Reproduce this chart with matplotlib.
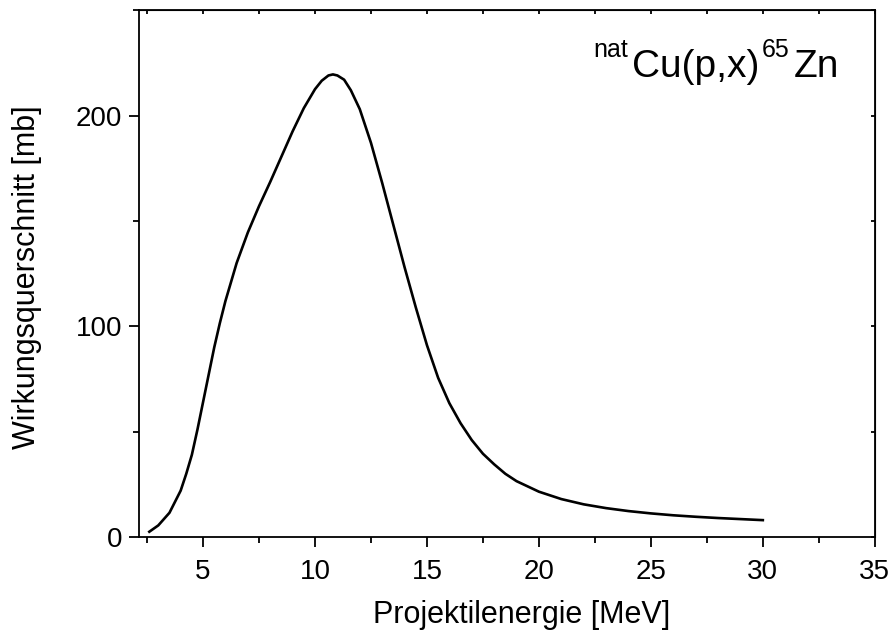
import matplotlib
matplotlib.use("Agg")
import matplotlib.pyplot as plt

plt.rcParams['font.family'] = ['Liberation Sans', 'DejaVu Sans']

# Anregungsfunktion natCu(p,x)65Zn
energy = [2.6, 3.0, 3.5, 4.0, 4.25, 4.5, 4.75, 5.0, 5.25, 5.5, 5.75, 6.0, 6.5,
          7.0, 7.5, 8.0, 8.5, 9.0, 9.5, 10.0, 10.3, 10.6, 10.8, 11.0, 11.3,
          11.6, 12.0, 12.5, 13.0, 13.5, 14.0, 14.5, 15.0, 15.5, 16.0, 16.5,
          17.0, 17.5, 18.0, 18.5, 19.0, 19.5, 20.0, 21.0, 22.0, 23.0, 24.0,
          25.0, 26.0, 27.0, 28.0, 29.0, 30.0]
xsec = [2.5, 5.5, 11.5, 22, 30, 39, 51, 64, 77, 90, 101.5, 112, 130,
        144.5, 157, 168.5, 180.5, 192.5, 203.5, 212.5, 216.5, 219, 219.5, 219, 217,
        212, 203, 187, 168, 148, 128, 109, 91, 75.5, 63.5, 54,
        46, 39.5, 34.5, 30, 26.5, 24, 21.5, 18, 15.5, 13.7, 12.3,
        11.2, 10.3, 9.6, 9.0, 8.5, 8.0]
xticks = [5, 10, 15, 20, 25, 30, 35]
xminor = [2.5, 7.5, 12.5, 17.5, 22.5, 27.5, 32.5]
yticks = [0, 100, 200]
yminor = [50, 150, 250]
title_parts = [('nat', True), ('Cu(p,x)', False), ('65', True), ('Zn', False)]

fig = plt.figure(figsize=(8.94, 6.34), dpi=100)
ax = fig.add_axes([0.1555, 0.153, 0.823, 0.831])
ax.plot(energy, xsec, color='black', lw=1.9)
ax.set_xlim(2.14, 35)
ax.set_ylim(0, 250)
ax.set_xticks(xticks)
ax.set_yticks(yticks)
ax.set_xticks(xminor, minor=True)
ax.set_yticks(yminor, minor=True)
ax.tick_params(which='major', direction='out', length=7, width=1.3, labelsize=20, pad=5)
ax.tick_params(axis='x', which='major', pad=9)
ax.tick_params(which='minor', direction='out', length=4, width=1.3)
for s in ax.spines.values():
    s.set_linewidth(1.3)

top = ax.secondary_xaxis('top')
top.set_xticks(xticks)
top.set_xticks(xminor, minor=True)
top.tick_params(which='both', direction='in', length=3, width=1.3, labeltop=False)
right = ax.secondary_yaxis('right')
right.set_yticks(yticks)
right.set_yticks(yminor, minor=True)
right.tick_params(which='both', direction='in', length=3, width=1.3, labelright=False)

ax.set_xlabel('Projektilenergie [MeV]', fontsize=22, va='baseline')
ax.xaxis.set_label_coords(0.520, -(623 - 537) / 527)
ax.set_ylabel('Wirkungsquerschnitt [mb]', fontsize=22, va='baseline')
ax.yaxis.set_label_coords(-0.1413, 0.493)

# Reaktion oben rechts, Hochzahlen kleiner und angehoben
renderer = fig.canvas.get_renderer()
x0 = 593
base = 634 - 77
for txt, sup in title_parts:
    t = fig.text(x0 / 894, (base + (20 if sup else 0)) / 634, txt,
                 fontsize=18 if sup else 28, ha='left', va='baseline')
    x0 = t.get_window_extent(renderer).x1 + (4 if sup else 3)

fig.savefig('out.png', dpi=100)
